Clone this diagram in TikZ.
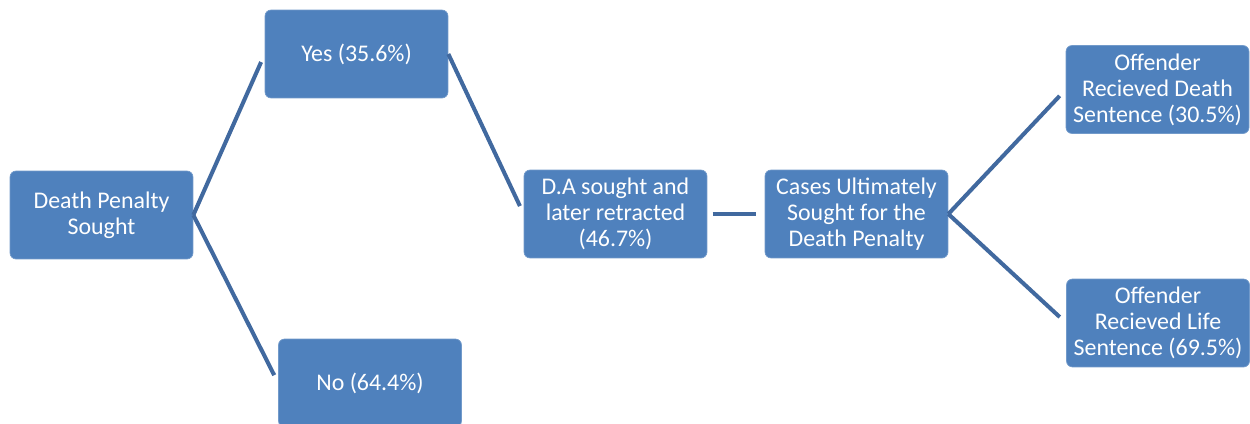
\documentclass[tikz,border=0pt]{standalone}
\usepackage{fontspec}
\setmainfont{Carlito}
\usepackage{tikz}

\definecolor{boxblue}{HTML}{4F81BD}
\definecolor{lineblue}{HTML}{41699F}

\tikzset{
  box/.style={fill=boxblue, draw=boxblue!80!white, line width=0.4pt, rounded corners=0.12cm,
    minimum width=3.66cm, minimum height=1.76cm, align=center, text=white,
    font=\fontsize{13.6}{14.8}\selectfont, inner sep=2pt},
  branch/.style={draw=lineblue, line width=2.3pt, shorten >=5pt}
}

\begin{document}
\begin{tikzpicture}[x=0.02cm, y=-0.02cm]
\useasboundingbox (0,0) rectangle (1250,423);

%first level
\node[box] (sought) at (101.5,215) {Death Penalty\\Sought};

%yes / no
\node[box] (yes) at (356.5,54) {Yes (35.6\%)};
\node[box] (no) at (370,383) {No (64.4\%)};

%middle
\node[box] (retracted) at (615.5,214) {D.A sought and\\later retracted\\(46.7\%)};
\node[box] (ultimately) at (856.5,214) {Cases Ultimately\\Sought for the\\Death Penalty};

%outcomes
\node[box] (death) at (1157.5,89.5) {Offender\\Recieved Death\\Sentence (30.5\%)};
\node[box] (life) at (1158,323) {Offender\\Recieved Life\\Sentence (69.5\%)};

%lines
\draw[branch] (sought.east) -- (yes.west);
\draw[branch] (sought.east) -- (no.west);
\draw[branch] (yes.east) -- (retracted.west);
\draw[branch, shorten <=3pt] (retracted.east) -- (ultimately.west);
\draw[branch] (ultimately.east) -- (death.west);
\draw[branch] (ultimately.east) -- (life.west);

\end{tikzpicture}
\end{document}
